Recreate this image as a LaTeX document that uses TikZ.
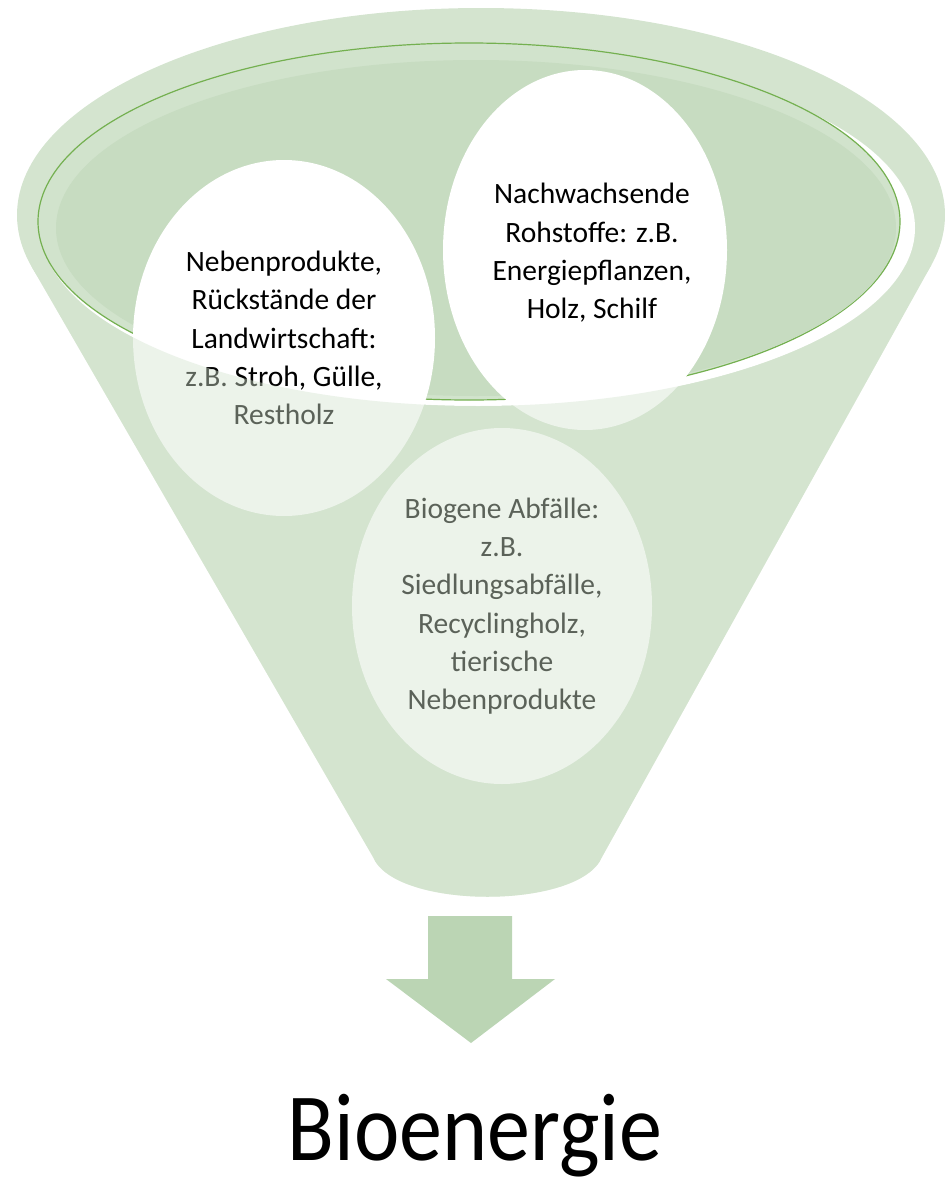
\documentclass[tikz,border=0pt]{standalone}
\usepackage{fontspec}
\setmainfont{Carlito}
\usetikzlibrary{shapes.geometric}
\definecolor{funnelgreen}{RGB}{212,228,207}
\definecolor{openinglight}{RGB}{209,227,204}
\definecolor{openinggreen}{RGB}{199,220,193}
\definecolor{rimgreen}{RGB}{116,176,80}
\definecolor{arrowgreen}{RGB}{187,213,180}
\begin{document}
\begin{tikzpicture}[x=1pt,y=-1pt,
		blob/.style={ellipse,fill=white,inner sep=0pt},
		blobtext/.style={align=center,inner sep=0pt,font=\fontsize{29.5}{38.3}\selectfont}]
			\useasboundingbox (0,0) rectangle (945,1186);
			\fill [funnelgreen] (481,215) ellipse [x radius=464,y radius=207];
			\fill [funnelgreen] (31.7,266.7) -- (373,857) .. controls (395,910) and (580,910) .. (602,857) -- (931.4,264.8) -- cycle;
			\fill [white] (478,228) ellipse [x radius=437,y radius=178];
			\filldraw [fill=openinglight,draw=rimgreen,line width=1.2pt] (469,221.5) ellipse [x radius=431,y radius=178.5];
			\fill [openinggreen] (476,228) ellipse [x radius=420,y radius=168];
			\node [blob,minimum width=302pt,minimum height=356pt] (neben) at (284,338) {};
			\node [blob,minimum width=284pt,minimum height=360pt] (nachw) at (585,250) {};
			\node [blob,minimum width=300pt,minimum height=356pt] (biogen) at (502,606) {};
			\node [blobtext] (nebentext) at (neben) {Nebenprodukte,\\Rückstände der\\Landwirtschaft:\\z.B. Stroh, Gülle,\\Restholz};
			\node [blobtext] (nachwtext) at (592,253) {Nachwachsende\\Rohstoffe: z.B.\\Energiepflanzen,\\Holz, Schilf};
			\node [blobtext] (biogentext) at (biogen) {Biogene Abfälle:\\z.B.\\Siedlungsabfälle,\\Recyclingholz,\\tierische\\Nebenprodukte};
			\begin{scope}
				\clip (31.7,266.7) -- (373,857) .. controls (395,910) and (580,910) .. (602,857) -- (931.4,264.8) -- cycle;
				\fill [funnelgreen,fill opacity=0.43,even odd rule] (0,0) rectangle (945,1186) (478,228) ellipse [x radius=437,y radius=178];
			\end{scope}
			\fill [arrowgreen] (428,916) -- (512,916) -- (512,979) -- (555,979) -- (471,1043) -- (386,979) -- (428,979) -- cycle;
			\node [anchor=base,inner sep=0pt,font=\fontsize{86}{90}\selectfont] (bioenergie) at (475,1160) {\scalebox{1}[1.12]{Bioenergie}};
		\end{tikzpicture}
\end{document}
